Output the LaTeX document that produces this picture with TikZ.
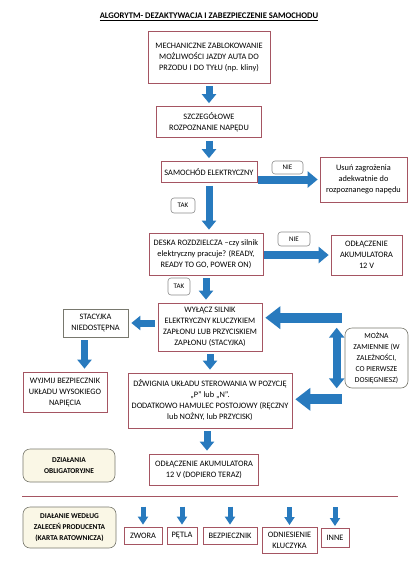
\documentclass[tikz,border=0pt]{standalone}
\usepackage{fontspec}
\setmainfont{Carlito}
\usetikzlibrary{arrows.meta, calc}
\definecolor{frame}{RGB}{165,85,98}
\definecolor{tagline}{RGB}{140,140,140}
\definecolor{noteline}{RGB}{120,120,110}
\definecolor{notefill}{RGB}{250,247,230}
\definecolor{flowblue}{RGB}{40,122,190}
\tikzstyle{box} = [rectangle, draw=frame, line width=0.7pt, align=center, inner sep=1pt, font=\fontsize{8.3}{11}\selectfont]
\tikzstyle{greybox} = [box, draw=noteline]
\tikzstyle{tag} = [rectangle, rounded corners=3pt, draw=tagline, line width=0.6pt, align=center, inner sep=1pt, font=\fontsize{7}{8}\selectfont]
\tikzstyle{note} = [rectangle, rounded corners=7pt, draw=noteline, line width=0.6pt, align=center, inner sep=1pt, font=\fontsize{7.6}{11}\selectfont]
\tikzstyle{duty} = [note, fill=notefill, font=\fontsize{7.4}{11}\selectfont\bfseries]
\tikzstyle{flow} = [line width=7pt, draw=flowblue, -{Triangle[width=14pt,length=9pt]}, shorten >=3pt, shorten <=3pt]
\tikzstyle{side} = [line width=8pt, draw=flowblue, -{Triangle[width=16pt,length=10pt]}, shorten >=2pt, shorten <=1pt]
\tikzstyle{wide} = [line width=10pt, draw=flowblue, -{Triangle[width=22pt,length=15pt]}, shorten >=3pt]
\tikzstyle{both} = [line width=8pt, draw=flowblue, {Triangle[width=15pt,length=10pt]}-{Triangle[width=15pt,length=10pt]}]
\tikzstyle{tiny} = [line width=5pt, draw=flowblue, -{Triangle[width=10pt,length=8pt]}, shorten >=2pt]

\begin{document}
\begin{tikzpicture}[x=1pt, y=-1pt]
  \fill [white] (0,0) rectangle (409,563);
  \useasboundingbox (0,0) rectangle (409,563);
  \node (title) at (209,17) [font=\fontsize{8.6}{10}\selectfont\bfseries] {\underline{ALGORYTM- DEZAKTYWACJA I ZABEZPIECZENIE SAMOCHODU}};

  % main column
  \node (mech) [box, minimum width=122pt, minimum height=52pt] at (209,57) {MECHANICZNE ZABLOKOWANIE\\MOŻLIWOŚCI JAZDY AUTA DO\\PRZODU I DO TYŁU (np. kliny)};
  \node (naped) [box, minimum width=105pt, minimum height=31pt] at (209,122) {SZCZEGÓŁOWE\\ROZPOZNANIE NAPĘDU};
  \node (elek) [box, minimum width=96pt, minimum height=21pt] at (209,172) {SAMOCHÓD ELEKTRYCZNY};
  \node (deska) [box, minimum width=114pt, minimum height=42pt] at (206,254) {DESKA ROZDZIELCZA –czy silnik\\elektryczny pracuje? (READY,\\READY TO GO, POWER ON)};
  \node (wylacz) [box, minimum width=104pt, minimum height=48pt] at (210,327) {WYŁĄCZ SILNIK\\ELEKTRYCZNY KLUCZYKIEM\\ZAPŁONU LUB PRZYCISKIEM\\ZAPŁONU (STACYJKA)};
  \node (dzwignia) [box, minimum width=164pt, minimum height=55pt] at (210,400.5) {DŹWIGNIA UKŁADU STEROWANIA W POZYCJĘ\\„P” lub „N”.\\DODATKOWO HAMULEC POSTOJOWY (RĘCZNY\\lub NOŻNY, lub PRZYCISK)};
  \node (odl2) [box, minimum width=109pt, minimum height=31pt] at (204,469.5) {ODŁĄCZENIE AKUMULATORA\\12 V (DOPIERO TERAZ)};

  % right side
  \node (usun) [box, minimum width=87pt, minimum height=45pt] at (363.5,179.5) {Usuń zagrożenia\\adekwatnie do\\rozpoznanego napędu};
  \node (odl1) [box, minimum width=71pt, minimum height=40pt] at (366.5,255) {ODŁĄCZENIE\\AKUMULATORA\\12 V};
  \node (mozna) [note, minimum width=63pt, minimum height=60pt] at (376.5,358) {MOŻNA\\ZAMIENNIE (W\\ZALEŻNOŚCI,\\CO PIERWSZE\\DOSIĘGNIESZ)};

  % left side
  \node (stacyjka) [greybox, minimum width=65pt, minimum height=28pt] at (95.5,323) {STACYJKA\\NIEDOSTĘPNA};
  \node (wyjmij) [box, minimum width=84pt, minimum height=40pt] at (65,392) {WYJMIJ BEZPIECZNIK\\UKŁADU WYSOKIEGO\\NAPIĘCIA};
  \node (oblig) [duty, minimum width=92pt, minimum height=33pt] at (69,465.5) {DZIAŁANIA\\OBLIGATORYJNE};
  \node (wedlug) [duty, minimum width=93pt, minimum height=41pt] at (69.5,527.5) {DIAŁANIE WEDŁUG\\ZALECEŃ PRODUCENTA\\(KARTA RATOWNICZA)};

  % answers
  \node (nie1) [tag, minimum width=31pt, minimum height=13pt] at (287.5,167.5) {NIE};
  \node (tak1) [tag, minimum width=24pt, minimum height=15pt] at (183,205.5) {TAK};
  \node (nie2) [tag, minimum width=32pt, minimum height=14pt] at (294,239) {NIE};
  \node (tak2) [tag, minimum width=22pt, minimum height=17pt] at (179,286.5) {TAK};

  % bottom row
  \node (zwora) [box, minimum width=38pt, minimum height=17pt] at (143,535.5) {ZWORA};
  \node (petla) [box, minimum width=30pt, minimum height=17pt] at (182,535.5) {PĘTLA};
  \node (bezp) [box, minimum width=54pt, minimum height=17pt] at (230,535.5) {BEZPIECZNIK};
  \node (klucz) [box, minimum width=55pt, minimum height=26pt, anchor=north] at (289.5,527) {ODNIESIENIE\\KLUCZYKA};
  \node (inne) [box, minimum width=28pt, minimum height=19pt, anchor=north] at (335,528) {INNE};

  \draw [frame, line width=0.8pt] (22,496) -- (398,496);

  % arrows
  \coordinate (odtop) at ($(odl2.north)+(3,0)$);
  \coordinate (stout) at ($(stacyjka.south)+(-11,0)$);
  \coordinate (wyin) at ($(wyjmij.north)+(19.5,0)$);
  \draw [flow] (mech) -- (naped);
  \draw [flow] (naped) -- (elek);
  \draw [flow] (elek.south) -- (elek.south |- deska.north);
  \draw [flow] (deska.south) -- (deska.south |- wylacz.north);
  \draw [flow] (wylacz) -- (dzwignia);
  \draw [flow] (odtop |- dzwignia.south) -- (odtop);
  \draw [side] (elek.east |- usun.west) -- (usun.west);
  \draw [side] (deska.east |- odl1.west) -- (odl1.west);
  \draw [flow] (wylacz.west |- stacyjka.east) -- (stacyjka.east);
  \draw [flow] (stout) -- (wyin);

  \coordinate (upin) at ($(mozna.north west)+(-3,-10)$);
  \coordinate (lowin) at ($(mozna.south west)+(-3,11)$);
  \coordinate (swapt) at ($(mozna.north west)+(-8,0)$);
  \coordinate (swapb) at ($(mozna.south west)+(-8,0)$);
  \draw [wide] (upin) -- (upin -| wylacz.east);
  \draw [wide] (lowin) -- (lowin -| dzwignia.east);
  \draw [both] (swapt) -- (swapb);

  \foreach \n in {zwora, petla, bezp, klucz} {
    \draw [tiny] ($(\n.north)+(0,-20)$) -- (\n.north);
  }
  \draw [tiny] ($(inne.north)+(0,-21)$) -- (inne.north);
\end{tikzpicture}
\end{document}
